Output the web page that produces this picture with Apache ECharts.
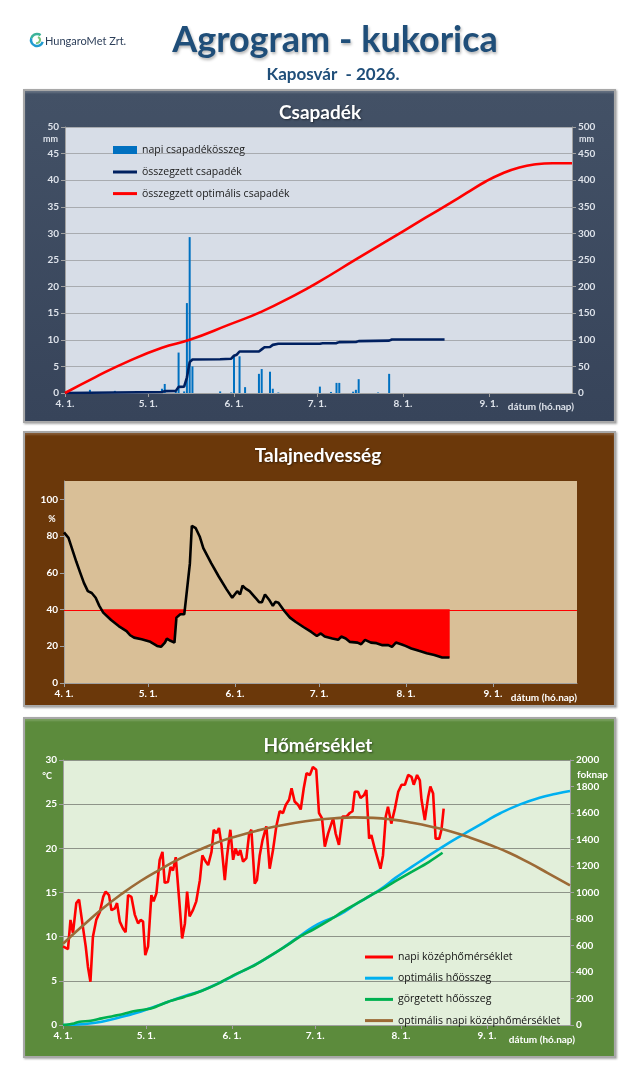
<!DOCTYPE html>
<html><head><meta charset="utf-8">
<script src="https://cdn.jsdelivr.net/npm/echarts@6/dist/echarts.min.js"></script>
<style>
html,body{margin:0;padding:0;background:#fff;}
#wrap{position:relative;width:640px;height:1077px;overflow:hidden;}
.panel{position:absolute;left:23px;width:593px;box-sizing:border-box;border:2px solid #a8a8a8;box-shadow:inset 0 2px 2px rgba(255,255,255,0.18),1px 1px 2px rgba(0,0,0,0.35);}
#chart{position:absolute;left:0;top:0;width:640px;height:1077px;}
</style></head><body>
<div id="wrap">
<div class="panel" style="top:89px;height:334px;background:linear-gradient(#435166,#37445a);"></div>
<div class="panel" style="top:431px;height:276px;background:#6b380a;"></div>
<div class="panel" style="top:717px;height:341px;background:#5c8b3c;"></div>
<div id="chart"></div>
</div>
<script>
// ---- axis ticks (day index from 1 April) ----
const monthTickDays = [0, 30, 61, 91, 122, 153];
const monthTickLabels = ['4. 1.', '5. 1.', '6. 1.', '7. 1.', '8. 1.', '9. 1.'];
const dayMax = 183;

// ---- Csapadék ----
const rainDays   = [9, 18, 35, 36, 40, 41, 43, 44, 45, 46, 56, 60, 61, 63, 65, 70, 71, 74, 75, 77, 92, 96, 98, 99, 104, 105, 106, 113, 117];
const rainValues = [0.6, 0.4, 0.8, 1.7, 0.3, 7.6, 0.3, 16.9, 29.3, 5, 0.3, 0.1, 6.9, 6.9, 1.1, 3.6, 4.5, 4, 0.8, 0.1, 1.2, 0.2, 1.9, 1.9, 0.25, 0.6, 2.6, 0.1, 3.6];

const rainSumDays   = [0, 9, 18, 35, 36, 40, 41, 43, 44, 45, 46, 56, 60, 61, 62, 63, 70, 71, 72, 74, 75, 77, 92, 93, 98, 99, 105, 106, 117, 118, 137];
const rainSumValues = [0, 0.6, 1, 1.8, 3.5, 4, 11.5, 12, 29, 58, 63, 63.5, 64.5, 70, 72, 78, 78, 82, 86, 86.5, 90.5, 92.5, 92.5, 93.5, 93.8, 95.6, 95.8, 97.5, 98.5, 100.5, 100.5];

const rainOptDays   = [0, 11, 23, 35, 45, 59, 71, 83, 91, 105, 115, 122, 130, 139, 145, 152, 158, 164, 170, 176, 183];
const rainOptValues = [0, 30, 60, 85, 100, 128, 153, 184, 207, 251, 282, 304, 329, 357, 376, 398, 413, 424, 430, 432, 432];

// ---- Talajnedvesség ----
const soilThreshold = 40;
const soilDays = [0, 1.6, 3, 4.4, 5.8, 7.1, 8.5, 9.9, 11.3, 12.6, 14, 16.8, 19.5, 22.3, 23.6, 25, 27.7, 30.5, 33.2, 34.6, 36, 36.7, 38, 39.4, 40.1, 41.5, 42.9, 43.5, 44.9, 45.6, 47, 48.4, 49.7, 52.5, 55.2, 58, 60, 60.7, 61.8, 62.8, 63.7, 64.8, 66.2, 68.3, 69.6, 70.6, 71.7, 73.1, 74.5, 75.4, 76.5, 78.6, 80.6, 82.7, 85.4, 88.2, 90.2, 91.6, 93, 95.7, 97.8, 98.9, 100.5, 101.9, 104.7, 106, 107.4, 109.5, 111.5, 113.6, 115.7, 117, 118.4, 120.5, 121.8, 123.9, 126.6, 129.4, 132.1, 134.9, 137.5];
const soilValues = [82, 79, 72.5, 66, 60, 54.5, 50, 49, 46.4, 42, 38.3, 34.3, 31, 28.3, 26, 24.7, 23.8, 22.6, 20.2, 19.7, 22, 24.2, 23, 22, 35.6, 37.4, 37.4, 45.5, 65, 85.6, 84.3, 79.8, 73.5, 65.3, 58, 51, 46.4, 45.5, 50, 48.2, 53, 51.4, 50, 46.4, 44, 44, 48.2, 45.5, 42, 44.2, 43.7, 39.2, 35.6, 33.2, 30.5, 27.8, 25.6, 27, 25.3, 24.2, 23.5, 25.3, 24.2, 22.4, 22, 21.1, 23.5, 22, 21.7, 20.6, 20.6, 19.7, 22, 21, 20.2, 18.8, 17.5, 16.2, 15.3, 13.9, 13.9];

// ---- Hőmérséklet ----
const tempDays = [0, 1.8, 2.7, 3.6, 4.8, 5.8, 7.0, 8.2, 9.0, 9.9, 10.8, 12.0, 13.3, 14.5, 15.4, 16.6, 17.5, 18.7, 19.5, 20.5, 21.7, 22.6, 23.5, 24.7, 25.9, 27.1, 28.0, 28.9, 29.7, 30.7, 31.9, 32.7, 33.7, 34.9, 35.9, 36.7, 37.9, 38.8, 39.7, 40.7, 41.9, 43.0, 44.0, 44.8, 45.7, 46.9, 48.1, 49.4, 50.3, 51.5, 52.4, 53.6, 54.4, 55.4, 56.3, 57.2, 58.4, 59.2, 60.4, 61.4, 62.3, 63.2, 64.0, 65.0, 66.2, 67.2, 68.0, 69.2, 70.0, 71.0, 72.0, 73.4, 74.6, 75.8, 77.0, 78.2, 79.4, 80.4, 81.6, 82.5, 83.6, 84.9, 85.8, 86.9, 87.9, 89.1, 90.2, 91.4, 92.4, 93.5, 94.5, 95.7, 97.5, 98.4, 99.6, 100.9, 102.3, 103.5, 104.5, 105.3, 106.5, 107.4, 108.6, 109.5, 110.5, 111.3, 112.5, 113.7, 114.6, 115.5, 116.5, 117.3, 118.5, 119.8, 121.0, 122.2, 123.4, 124.6, 125.8, 126.6, 127.8, 128.8, 129.4, 130.6, 131.8, 132.6, 133.6, 134.5, 135.8, 136.6, 137.4];
const tempValues = [8.9, 8.6, 11.9, 10.4, 13.8, 14.2, 11.5, 8.9, 6.6, 4.9, 10, 11.9, 12.8, 14.5, 15.1, 14.7, 13, 13.2, 13.8, 11.7, 10.9, 10.5, 14.7, 14.5, 12.5, 11.5, 11.9, 11.7, 7.9, 8.9, 14.7, 14, 14.9, 18.7, 19.6, 16.1, 16.2, 17.9, 17.5, 19, 14.3, 9.8, 11.5, 15.1, 12.3, 13, 14, 16.4, 19.2, 18.5, 18.1, 19.6, 22.1, 21.7, 22.3, 20.4, 16.4, 19.1, 22.1, 18.7, 20, 19.2, 19.8, 18.5, 18.9, 21.7, 22.1, 16, 16.4, 19.2, 20.9, 22.5, 17.7, 19.8, 22.5, 24.2, 24, 24.9, 25.5, 26.8, 25.3, 24.9, 24.4, 26.8, 28.5, 28.3, 29.2, 28.9, 24, 23.4, 20.2, 21.7, 23.4, 21.7, 20.4, 23.6, 23.6, 24, 24.2, 26.4, 26.4, 25.7, 26, 26.6, 21.1, 21.5, 20, 18.7, 17.7, 19.2, 23.6, 24.7, 22.8, 24.5, 26.4, 27.2, 27.2, 28.3, 28.1, 27.2, 28.3, 27.7, 25.5, 23.2, 25.8, 27, 26.2, 21.1, 21.1, 22.1, 24.5];

const heatOptDays   = [0, 8, 14, 20, 26, 32, 38, 44, 50, 56, 62, 68, 74, 80, 86, 92, 100, 106, 112, 116, 120, 126, 130, 137, 145, 152, 158, 165, 172, 178, 183];
const heatOptValues = [0, 8, 25, 55, 88, 130, 176, 219, 259, 314, 377, 440, 511, 591, 679, 762, 835, 915, 990, 1045, 1110, 1195, 1250, 1345, 1445, 1530, 1600, 1665, 1715, 1745, 1766];

const heatSumDays   = [0, 4, 6, 10, 14, 20, 26, 32, 38, 44, 50, 56, 62, 68, 74, 80, 86, 90, 96, 102, 108, 112, 114, 120, 126, 132, 137];
const heatSumValues = [0, 12, 25, 32, 50, 75, 106, 126, 176, 214, 257, 312, 380, 438, 512, 590, 672, 717, 790, 868, 940, 990, 1010, 1085, 1157, 1230, 1300];

const tempOptDays   = [0, 7, 14, 21, 28, 35, 42, 49, 56, 63, 70, 77, 84, 91, 98, 105, 112, 119, 126, 133, 140, 147, 154, 161, 168, 175, 183];
const tempOptValues = [9.2, 11.2, 13.1, 14.8, 16.3, 17.6, 18.8, 19.8, 20.7, 21.4, 22, 22.5, 22.9, 23.2, 23.4, 23.5, 23.45, 23.25, 22.9, 22.45, 21.9, 21.2, 20.4, 19.5, 18.4, 17.2, 15.8];

// ---- build ----
const zip = (a, b) => a.map((d, i) => [d, b[i]]);
const LBL = 'Lato';

function xAx(gi, color) {
  return {
    type: 'value', gridIndex: gi, min: 0, max: dayMax,
    axisLine: { show: true, onZero: false, lineStyle: { color: '#a0a0a0', width: 1 } },
    axisTick: { show: true, customValues: monthTickDays, length: 4, lineStyle: { color: '#a0a0a0' } },
    axisLabel: { customValues: monthTickDays, formatter: v => monthTickLabels[monthTickDays.indexOf(v)],
      color: color, fontSize: 10, fontWeight: 'bold', fontFamily: LBL, margin: 6 },
    splitLine: { show: false }
  };
}
function yAx(gi, pos, min, max, interval, color, split, splitColor) {
  return {
    type: 'value', gridIndex: gi, position: pos, min: min, max: max, interval: interval,
    axisLine: { show: true, lineStyle: { color: '#a0a0a0', width: 1 } },
    axisTick: { show: true, length: 4, lineStyle: { color: '#a0a0a0' } },
    axisLabel: { color: color, fontSize: 10, fontWeight: 'bold', fontFamily: LBL, margin: 6, formatter: v => String(v) },
    splitLine: { show: !!split, lineStyle: { color: splitColor || '#a6a6a6', width: 1 } }
  };
}
function txt(x, y, text, font, fill, align, extra) {
  return {
    type: 'text', x: x, y: y, silent: true,
    style: Object.assign({ text: text, font: font, fill: fill,
      textAlign: align || 'left', align: align || 'left',
      textVerticalAlign: 'middle', verticalAlign: 'middle' }, extra || {})
  };
}

// fill of the soil-moisture deficit + the threshold line, drawn through the axis scales
function renderDeficit(params, api) {
  const T = soilThreshold;
  const regions = [];
  let cur = null;
  for (let i = 0; i < soilDays.length; i++) {
    const d = soilDays[i], v = soilValues[i];
    if (i > 0) {
      const pd = soilDays[i - 1], pv = soilValues[i - 1];
      if ((pv < T) !== (v < T)) {
        const t = (T - pv) / (v - pv);
        const dc = pd + t * (d - pd);
        if (cur) { cur.push([dc, T]); regions.push(cur); cur = null; }
        else { cur = [[dc, T]]; }
      }
    }
    if (v < T) {
      if (!cur) cur = [[d, T]];
      cur.push([d, v]);
    }
  }
  if (cur) { cur.push([soilDays[soilDays.length - 1], T]); regions.push(cur); }
  const children = regions.map(r => ({
    type: 'polygon',
    shape: { points: r.map(p => api.coord(p)) },
    style: { fill: '#ff0000', stroke: '#ff0000', lineWidth: 0.5 }
  }));
  const a = api.coord([0, T]), b = api.coord([dayMax, T]);
  children.push({
    type: 'line',
    shape: { x1: a[0], y1: Math.round(a[1]) + 0.5, x2: b[0], y2: Math.round(b[1]) + 0.5 },
    style: { stroke: '#ff0000', lineWidth: 1.2 }
  });
  return { type: 'group', children: children };
}

const c1 = '#dde2ea', c2 = '#ffffff', c3 = '#ffffff';
const shadow = { textShadowColor: 'rgba(0,0,0,0.45)', textShadowBlur: 2, textShadowOffsetX: 1, textShadowOffsetY: 1 };

const option = {
  animation: false,
  backgroundColor: 'transparent',
  grid: [
    { left: 65, top: 127, width: 507, height: 266, show: true, backgroundColor: '#d7dde7', borderWidth: 0 },
    { left: 64, top: 481, width: 513, height: 202, show: true, backgroundColor: '#d9bf97', borderWidth: 0 },
    { left: 63, top: 760, width: 507, height: 265, show: true, backgroundColor: '#e2efda', borderWidth: 0 }
  ],
  xAxis: [xAx(0, c1), xAx(1, c2), xAx(2, c3)],
  yAxis: [
    yAx(0, 'left', 0, 50, 5, c1, true, '#a8abb0'),
    yAx(0, 'right', 0, 500, 50, c1, false),
    Object.assign(yAx(1, 'left', 0, 110, 20, c2, false), {
      axisLabel: { customValues: [0, 20, 40, 60, 80, 100], color: c2, fontSize: 10, fontWeight: 'bold', fontFamily: LBL, margin: 6 },
      axisTick: { show: true, customValues: [0, 20, 40, 60, 80, 100], length: 4, lineStyle: { color: '#a0a0a0' } }
    }),
    yAx(2, 'left', 0, 30, 5, c3, true, '#8e9489'),
    yAx(2, 'right', 0, 2000, 200, c3, false)
  ],
  legend: [
    { data: ['napi csapadékösszeg'], left: 108, top: 138, orient: 'vertical', icon: 'rect', itemWidth: 24, itemHeight: 8,
      textStyle: { fontSize: 10.5, fontFamily: 'Open Sans', color: '#1a1a1a', lineHeight: 14 } },
    { data: ['összegzett csapadék', 'összegzett optimális csapadék'], left: 108, top: 160, orient: 'vertical', icon: 'rect',
      itemWidth: 24, itemHeight: 3, itemGap: 7.6,
      textStyle: { fontSize: 10.5, fontFamily: 'Open Sans', color: '#1a1a1a', lineHeight: 14 } },
    { data: ['napi középhőmérséklet', 'optimális hőösszeg', 'görgetett hőösszeg', 'optimális napi középhőmérséklet'],
      left: 360, top: 945, orient: 'vertical', icon: 'rect', itemWidth: 28, itemHeight: 3, itemGap: 7.2,
      textStyle: { fontSize: 10.5, fontFamily: 'Open Sans', color: '#111', lineHeight: 14 } }
  ],
  series: [
    { name: 'napi csapadékösszeg', type: 'bar', xAxisIndex: 0, yAxisIndex: 0, barWidth: 2,
      itemStyle: { color: '#0070c0' }, data: zip(rainDays, rainValues) },
    { name: 'összegzett csapadék', type: 'line', xAxisIndex: 0, yAxisIndex: 1, symbol: 'none',
      itemStyle: { color: '#002060' }, lineStyle: { color: '#002060', width: 2.6 }, data: zip(rainSumDays, rainSumValues) },
    { name: 'összegzett optimális csapadék', type: 'line', xAxisIndex: 0, yAxisIndex: 1, symbol: 'none', smooth: true,
      itemStyle: { color: '#ff0000' }, lineStyle: { color: '#ff0000', width: 2.6 }, data: zip(rainOptDays, rainOptValues) },

    { name: 'soilDeficit', type: 'custom', xAxisIndex: 1, yAxisIndex: 2, silent: true,
      renderItem: renderDeficit, encode: { x: 0, y: 1 }, data: [[0, soilThreshold]] },
    { name: 'Talajnedvesség', type: 'line', xAxisIndex: 1, yAxisIndex: 2, symbol: 'none', z: 3,
      lineStyle: { color: '#000000', width: 2.6 }, itemStyle: { color: '#000' }, data: zip(soilDays, soilValues) },

    { name: 'napi középhőmérséklet', type: 'line', xAxisIndex: 2, yAxisIndex: 3, symbol: 'none',
      itemStyle: { color: '#ff0000' }, lineStyle: { color: '#ff0000', width: 2.6 }, data: zip(tempDays, tempValues) },
    { name: 'optimális hőösszeg', type: 'line', xAxisIndex: 2, yAxisIndex: 4, symbol: 'none', smooth: true,
      itemStyle: { color: '#00b0f0' }, lineStyle: { color: '#00b0f0', width: 2.6 }, data: zip(heatOptDays, heatOptValues) },
    { name: 'görgetett hőösszeg', type: 'line', xAxisIndex: 2, yAxisIndex: 4, symbol: 'none', smooth: 0.3,
      itemStyle: { color: '#00b050' }, lineStyle: { color: '#00b050', width: 2.6 }, data: zip(heatSumDays, heatSumValues) },
    { name: 'optimális napi középhőmérséklet', type: 'line', xAxisIndex: 2, yAxisIndex: 3, symbol: 'none', smooth: true,
      itemStyle: { color: '#9c6a36' }, lineStyle: { color: '#9c6a36', width: 2.6 }, data: zip(tempOptDays, tempOptValues) }
  ],
  graphic: [
    // logo
    { type: 'arc', shape: { cx: 37, cy: 40, r: 6, startAngle: Math.PI * 0.1, endAngle: Math.PI * 1.1 }, style: { stroke: '#1f9bd0', lineWidth: 2.5, fill: 'none' }, silent: true },
    { type: 'arc', shape: { cx: 37, cy: 40, r: 6, startAngle: Math.PI * 1.1, endAngle: Math.PI * 1.7 }, style: { stroke: '#3cb39a', lineWidth: 2.5, fill: 'none' }, silent: true },
    { type: 'arc', shape: { cx: 37, cy: 40, r: 3, startAngle: Math.PI * 1.6, endAngle: Math.PI * 2.6 }, style: { stroke: '#7cc47a', lineWidth: 2, fill: 'none' }, silent: true },
    txt(45, 41, 'HungaroMet Zrt.', '11px Lato', '#2d3f5a', 'left'),
    // titles
    txt(335, 40, 'Agrogram - kukorica', 'bold 36px Lato', '#1f4e79', 'center',
      { textShadowColor: 'rgba(0,0,0,0.3)', textShadowBlur: 3, textShadowOffsetX: 1, textShadowOffsetY: 2 }),
    txt(333, 75, 'Kaposvár  - 2026.', 'bold 17px Lato', '#1f4e79', 'center'),
    txt(320, 113, 'Csapadék', 'bold 19px Lato', '#ffffff', 'center', shadow),
    txt(318, 456, 'Talajnedvesség', 'bold 19px Lato', '#ffffff', 'center', shadow),
    txt(318, 746, 'Hőmérséklet', 'bold 19px Lato', '#ffffff', 'center', shadow),
    // units
    txt(58, 139, 'mm', 'bold 9px Lato', c1, 'right'),
    txt(579, 139, 'mm', 'bold 9px Lato', c1, 'left'),
    txt(52, 519, '%', 'bold 9px Lato', c2, 'center'),
    txt(47, 776, '°C', 'bold 9px Lato', c3, 'center'),
    txt(577, 775, 'foknap', 'bold 10px Lato', c3, 'left'),
    // x axis names
    txt(574, 407, 'dátum (hó.nap)', 'bold 10px Lato', c1, 'right'),
    txt(577, 698, 'dátum (hó.nap)', 'bold 10px Lato', c2, 'right'),
    txt(575, 1040, 'dátum (hó.nap)', 'bold 10px Lato', c3, 'right')
  ]
};

const chart = echarts.init(document.getElementById('chart'), null, { renderer: 'canvas' });
chart.setOption(option);
</script>
</body></html>
